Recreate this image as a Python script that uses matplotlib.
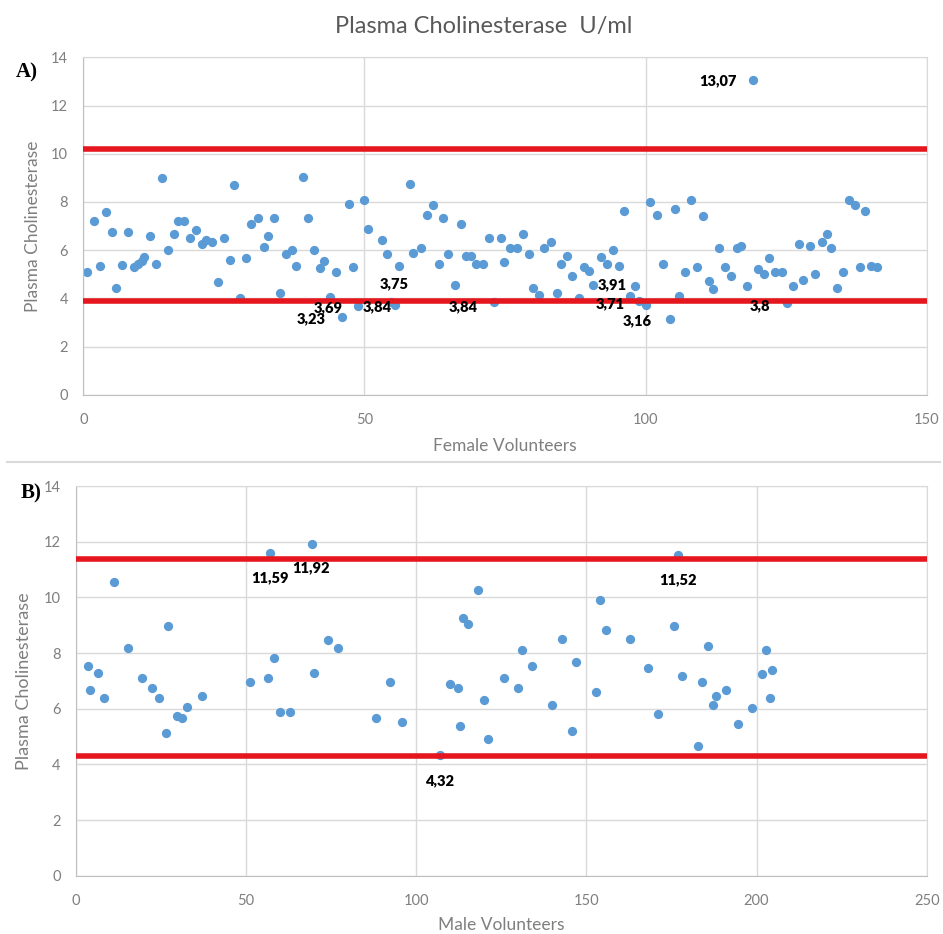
import numpy as np
import matplotlib.pyplot as plt
from matplotlib.lines import Line2D

# female volunteers (panel A)
fem_x = [0.7, 1.9, 3.0, 4.0, 5.1, 5.8, 6.8, 8.0, 9.0, 9.8, 10.4, 10.8, 11.9, 12.9, 14.0,
         15.1, 16.1, 16.8, 18.0, 19.0, 20.1, 21.1, 21.8, 22.9, 24.0, 25.0, 26.1, 26.8, 27.9,
         28.9, 29.9, 31.1, 32.2, 32.9, 34.0, 35.0, 36.1, 37.1, 37.9, 39.0, 40.0, 41.1, 42.1,
         42.9, 43.9, 45.0, 46.1, 47.2, 47.9, 48.9, 49.9, 50.7, 53.2, 54.0, 54.8, 55.4, 56.1,
         58.1, 58.7, 60.0, 61.1, 62.2, 63.2, 64.0, 64.9, 66.1, 67.1, 68.1, 68.9, 69.9, 71.1,
         72.1, 73.1, 74.3, 74.9, 75.9, 77.1, 78.2, 79.2, 80.0, 81.1, 82.0, 83.2, 84.2, 85.0,
         86.0, 87.0, 88.1, 89.1, 90.0, 90.7, 92.1, 93.1, 94.2, 95.2, 96.1, 97.2, 98.2, 98.9,
         100.0, 100.8, 102.1, 103.1, 104.3, 105.2, 106.0, 107.1, 108.1, 109.1, 110.2, 111.2,
         112.0, 113.1, 114.2, 115.2, 116.3, 117.0, 118.0, 119.1, 120.0, 121.1, 122.0, 123.1,
         124.3, 125.2, 126.2, 127.3, 128.0, 129.2, 130.2, 131.3, 132.3, 133.0, 134.1, 135.1,
         136.2, 137.3, 138.1, 139.1, 140.1, 141.2]
fem_y = [5.11, 7.23, 5.36, 7.58, 6.77, 4.45, 5.37, 6.77, 5.29, 5.42, 5.56, 5.70, 6.59, 5.45, 8.99,
         6.00, 6.68, 7.23, 7.23, 6.49, 6.84, 6.25, 6.41, 6.33, 4.67, 6.49, 5.59, 8.71, 4.03,
         5.67, 7.07, 7.32, 6.15, 6.59, 7.32, 4.22, 5.84, 6.00, 5.34, 9.05, 7.32, 6.00, 5.26,
         5.56, 4.08, 5.11, 3.23, 7.92, 5.29, 3.69, 8.10, 6.86, 6.42, 5.84, 3.84, 3.75, 5.36,
         8.74, 5.90, 6.08, 7.48, 7.86, 5.45, 7.32, 5.84, 4.58, 7.10, 5.77, 5.77, 5.45, 5.45,
         6.49, 3.84, 6.49, 5.53, 6.08, 6.08, 6.68, 5.84, 4.44, 4.16, 6.08, 6.36, 4.22, 5.45,
         5.77, 4.93, 4.03, 5.32, 5.15, 4.58, 5.70, 5.45, 6.00, 5.36, 7.64, 4.12, 4.52, 3.91,
         3.71, 8.00, 7.48, 5.45, 3.16, 7.73, 4.12, 5.11, 8.10, 5.29, 7.40, 4.71,
         4.38, 6.08, 5.29, 4.93, 6.08, 6.18, 4.52, 13.07, 5.21, 5.01, 5.67, 5.11,
         5.11, 3.80, 4.52, 6.27, 4.77, 6.18, 5.01, 6.36, 6.68, 6.08, 4.44, 5.11,
         8.10, 7.86, 5.29, 7.64, 5.36, 5.29]
fem_limits = [10.19, 3.90]
fem_labels = ["13,07", "3,23", "3,69", "3,84", "3,75", "3,84", "3,91", "3,71", "3,16", "3,8"]
fem_label_x = [112.8, 40.6, 43.6, 52.2, 55.2, 67.6, 94.0, 93.7, 98.5, 120.3]
fem_label_y = [13.03, 3.18, 3.62, 3.66, 4.63, 3.66, 4.56, 3.80, 3.07, 3.70]

# male volunteers (panel B)
male_x = [3.4, 4.1, 6.6, 8.3, 11.3, 15.4, 19.5, 22.4, 24.3, 26.4, 27.1, 29.8, 31.2, 32.5, 37.0,
          51.1, 56.5, 57.1, 58.2, 59.9, 63.0, 69.4, 69.9, 74.1, 77.0, 88.3, 92.4, 95.9, 107.0,
          109.8, 112.3, 112.9, 113.7, 115.2, 118.1, 119.8, 121.1, 125.7, 129.9, 131.1, 134.0,
          139.9, 142.8, 145.8, 146.9, 152.8, 154.0, 155.7, 162.8, 168.2, 171.0, 175.8, 177.0,
          178.1, 182.8, 184.0, 185.7, 187.1, 188.0, 191.0, 194.6, 198.6, 201.5, 202.8, 203.9,
          204.6]
male_y = [7.53, 6.67, 7.29, 6.37, 10.56, 8.17, 7.10, 6.74, 6.37, 5.14, 8.98, 5.74, 5.66, 6.07, 6.44,
          6.96, 7.10, 11.59, 7.82, 5.87, 5.87, 11.92, 7.29, 8.46, 8.17, 5.66, 6.96, 5.52, 4.32,
          6.89, 6.73, 5.38, 9.25, 9.04, 10.26, 6.31, 4.92, 7.10, 6.74, 8.10, 7.52,
          6.13, 8.51, 5.21, 7.68, 6.59, 9.90, 8.83, 8.51, 7.45, 5.81, 8.98, 11.52,
          7.16, 4.66, 6.96, 8.24, 6.13, 6.46, 6.68, 5.44, 6.01, 7.23, 8.11, 6.37,
          7.38]
male_limits = [11.37, 4.31]
male_labels = ["11,59", "11,92", "4,32", "11,52"]
male_label_x = [57.1, 69.2, 106.8, 176.8]
male_label_y = [10.72, 11.05, 3.41, 10.65]

plt.rcParams['font.family'] = ['Lato', 'DejaVu Sans']
gray = '#7f7f7f'
blue = '#5b9bd5'
red = '#e5161d'

fig = plt.figure(figsize=(9.43, 9.34), dpi=100)
ax1 = fig.add_axes([0.0883, 0.5771, 0.8944, 0.3616])
ax2 = fig.add_axes([0.0806, 0.0624, 0.9021, 0.4172])


def style(ax, xmax, xlabel, lab_x, lab_y, ysize):
  ax.set_xlim(0, xmax)
  ax.set_ylim(0, 14)
  ax.set_xticks(np.arange(0, xmax + 1, 50))
  ax.set_yticks(np.arange(0, 15, 2))
  ax.grid(True, color='#d9d9d9', linewidth=1)
  ax.set_axisbelow(True)
  for s in ax.spines.values():
    s.set_color('#d9d9d9')
  ax.spines['left'].set_color('#bfbfbf')
  ax.spines['bottom'].set_color('#bfbfbf')
  ax.tick_params(length=0, colors=gray, labelsize=10.5)
  ax.tick_params(axis='x', pad=13)
  ax.tick_params(axis='y', pad=11)
  ax.set_xlabel(xlabel, color=gray, fontsize=12.5)
  ax.set_ylabel("Plasma Cholinesterase", color=gray, fontsize=ysize)
  ax.xaxis.set_label_coords(0.5, lab_x)
  ax.yaxis.set_label_coords(lab_y, 0.5)


style(ax1, 150, "Female Volunteers", -0.128, -0.05, 12.5)
ax1.scatter(fem_x, fem_y, s=32, color=blue, zorder=2)
for v in fem_limits:
  ax1.axhline(v, color=red, linewidth=4, zorder=3)
for t, x, y in zip(fem_labels, fem_label_x, fem_label_y):
  ax1.text(x, y, t, fontsize=10.5, fontweight='heavy', ha='center', va='center', zorder=4)

style(ax2, 250, "Male Volunteers", -0.105, -0.052, 13)
ax2.scatter(male_x, male_y, s=32, color=blue, zorder=2)
for v in male_limits:
  ax2.axhline(v, color=red, linewidth=4, zorder=3)
for t, x, y in zip(male_labels, male_label_x, male_label_y):
  ax2.text(x, y, t, fontsize=10.5, fontweight='heavy', ha='center', va='center', zorder=4)

fig.text(0.513, 1 - 26.7 / 934, "Plasma Cholinesterase  U/ml", color='#595959', fontsize=17,
         ha='center', va='center')
fig.text(27 / 943, 1 - 72 / 934, "A)", family='Liberation Serif', fontweight='bold', fontsize=15,
         ha='center', va='center')
fig.text(31 / 943, 1 - 493 / 934, "B)", family='Liberation Serif', fontweight='bold', fontsize=15,
         ha='center', va='center')
fig.add_artist(Line2D([7 / 943, 940 / 943], [1 - 461.7 / 934] * 2, color='#d9d9d9', linewidth=1.5))

fig.savefig("out.png", dpi=100)
